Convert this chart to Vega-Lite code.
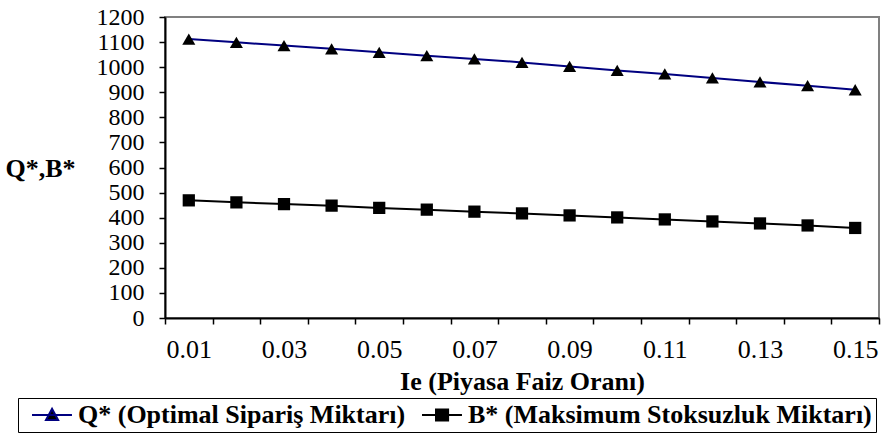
{
  "$schema": "https://vega.github.io/schema/vega-lite/v6.json",
  "width": 714,
  "height": 301,
  "autosize": {"type": "none"},
  "padding": {"left": 165, "top": 17, "right": 8, "bottom": 121},
  "background": "white",
  "config": {
    "view": {"stroke": "#808080", "strokeWidth": 2},
    "font": "Liberation Serif",
    "axis": {
      "labelFont": "Liberation Serif",
      "labelFontSize": 26,
      "labelColor": "black",
      "titleFont": "Liberation Serif",
      "titleFontSize": 26,
      "titleFontWeight": "bold",
      "titleColor": "black",
      "domainColor": "black",
      "domainWidth": 2,
      "tickColor": "black",
      "tickWidth": 1.5,
      "tickSize": 6,
      "grid": false,
      "labelOverlap": false,
      "labelFlush": false
    }
  },
  "data": {
    "values": [
      {"ie": "0.01", "series": "Q* (Optimal Sipariş Miktarı)", "value": 1112},
      {"ie": "0.02", "series": "Q* (Optimal Sipariş Miktarı)", "value": 1099},
      {"ie": "0.03", "series": "Q* (Optimal Sipariş Miktarı)", "value": 1086},
      {"ie": "0.04", "series": "Q* (Optimal Sipariş Miktarı)", "value": 1073},
      {"ie": "0.05", "series": "Q* (Optimal Sipariş Miktarı)", "value": 1059},
      {"ie": "0.06", "series": "Q* (Optimal Sipariş Miktarı)", "value": 1046},
      {"ie": "0.07", "series": "Q* (Optimal Sipariş Miktarı)", "value": 1033},
      {"ie": "0.08", "series": "Q* (Optimal Sipariş Miktarı)", "value": 1019},
      {"ie": "0.09", "series": "Q* (Optimal Sipariş Miktarı)", "value": 1003},
      {"ie": "0.10", "series": "Q* (Optimal Sipariş Miktarı)", "value": 987},
      {"ie": "0.11", "series": "Q* (Optimal Sipariş Miktarı)", "value": 973},
      {"ie": "0.12", "series": "Q* (Optimal Sipariş Miktarı)", "value": 957},
      {"ie": "0.13", "series": "Q* (Optimal Sipariş Miktarı)", "value": 941},
      {"ie": "0.14", "series": "Q* (Optimal Sipariş Miktarı)", "value": 926},
      {"ie": "0.15", "series": "Q* (Optimal Sipariş Miktarı)", "value": 910},
      {"ie": "0.01", "series": "B* (Maksimum Stoksuzluk Miktarı)", "value": 469},
      {"ie": "0.02", "series": "B* (Maksimum Stoksuzluk Miktarı)", "value": 461},
      {"ie": "0.03", "series": "B* (Maksimum Stoksuzluk Miktarı)", "value": 454},
      {"ie": "0.04", "series": "B* (Maksimum Stoksuzluk Miktarı)", "value": 448},
      {"ie": "0.05", "series": "B* (Maksimum Stoksuzluk Miktarı)", "value": 439},
      {"ie": "0.06", "series": "B* (Maksimum Stoksuzluk Miktarı)", "value": 432},
      {"ie": "0.07", "series": "B* (Maksimum Stoksuzluk Miktarı)", "value": 424},
      {"ie": "0.08", "series": "B* (Maksimum Stoksuzluk Miktarı)", "value": 417},
      {"ie": "0.09", "series": "B* (Maksimum Stoksuzluk Miktarı)", "value": 409},
      {"ie": "0.10", "series": "B* (Maksimum Stoksuzluk Miktarı)", "value": 401},
      {"ie": "0.11", "series": "B* (Maksimum Stoksuzluk Miktarı)", "value": 393},
      {"ie": "0.12", "series": "B* (Maksimum Stoksuzluk Miktarı)", "value": 385},
      {"ie": "0.13", "series": "B* (Maksimum Stoksuzluk Miktarı)", "value": 377},
      {"ie": "0.14", "series": "B* (Maksimum Stoksuzluk Miktarı)", "value": 369},
      {"ie": "0.15", "series": "B* (Maksimum Stoksuzluk Miktarı)", "value": 359}
    ]
  },
  "encoding": {
    "x": {
      "field": "ie",
      "type": "ordinal",
      "sort": null,
      "scale": {"type": "band", "paddingInner": 0, "paddingOuter": 0},
      "axis": {
        "title": "Ie (Piyasa Faiz Oranı)",
        "labelAngle": 0,
        "tickBand": "extent",
        "labelPadding": 12,
        "labelBaseline": "top",
        "labelExpr": "indexof(['0.01','0.03','0.05','0.07','0.09','0.11','0.13','0.15'], datum.value) >= 0 ? datum.label : ''",
        "titleBaseline": "middle",
        "titleY": 63
      }
    },
    "y": {
      "field": "value",
      "type": "quantitative",
      "scale": {"domain": [0, 1200], "nice": false},
      "axis": {
        "values": [0, 100, 200, 300, 400, 500, 600, 700, 800, 900, 1000, 1100, 1200],
        "format": "d",
        "labelFontSize": 24,
        "title": "Q*,B*",
        "titleAngle": 0,
        "titleAlign": "left",
        "titleBaseline": "middle",
        "titleX": -160,
        "titleY": 151,
        "labelPadding": 15,
        "labelBaseline": "middle"
      }
    }
  },
  "layer": [
    {
      "transform": [{"filter": "datum.series == 'Q* (Optimal Sipariş Miktarı)'"}],
      "mark": {"type": "line", "strokeWidth": 2, "color": "#000080"}
    },
    {
      "transform": [{"filter": "datum.series == 'B* (Maksimum Stoksuzluk Miktarı)'"}],
      "mark": {"type": "line", "strokeWidth": 2, "color": "#000000"}
    },
    {
      "transform": [{"filter": "datum.series == 'Q* (Optimal Sipariş Miktarı)'"}],
      "mark": {"type": "point", "shape": "triangle-up", "filled": true, "color": "black", "opacity": 1, "size": 170}
    },
    {
      "transform": [{"filter": "datum.series == 'B* (Maksimum Stoksuzluk Miktarı)'"}],
      "mark": {"type": "point", "shape": "square", "filled": true, "color": "black", "opacity": 1, "size": 150}
    },
    {
      "mark": {"type": "point", "opacity": 0, "filled": false, "fill": "black", "strokeWidth": 2},
      "encoding": {
        "color": {
          "field": "series",
          "type": "nominal",
          "scale": {
            "domain": ["Q* (Optimal Sipariş Miktarı)", "B* (Maksimum Stoksuzluk Miktarı)"],
            "range": ["#000080", "#000000"]
          },
          "legend": {
            "orient": "none",
            "legendX": -147,
            "legendY": 381,
            "direction": "horizontal",
            "title": null,
            "strokeColor": "black",
            "padding": 4,
            "symbolSize": 484,
            "symbolOpacity": 1,
            "symbolFillColor": "black",
            "symbolStrokeWidth": 2,
            "labelOffset": 30,
            "labelFont": "Liberation Serif",
            "labelFontSize": 26,
            "labelFontWeight": "bold",
            "labelColor": "black",
            "labelLimit": 600,
            "labelBaseline": "middle",
            "columnPadding": 6
          }
        },
        "shape": {
          "field": "series",
          "type": "nominal",
          "scale": {
            "domain": ["Q* (Optimal Sipariş Miktarı)", "B* (Maksimum Stoksuzluk Miktarı)"],
            "range": [
              "M-0.27,0H3.36M1.0,0.45L1.55,-0.55L2.1,0.45Z",
              "M-0.27,0H3.36M1.0,-0.5H2.1V0.5H1.0Z"
            ]
          },
          "legend": {
            "orient": "none",
            "legendX": -147,
            "legendY": 381,
            "direction": "horizontal",
            "title": null
          }
        }
      }
    }
  ]
}
